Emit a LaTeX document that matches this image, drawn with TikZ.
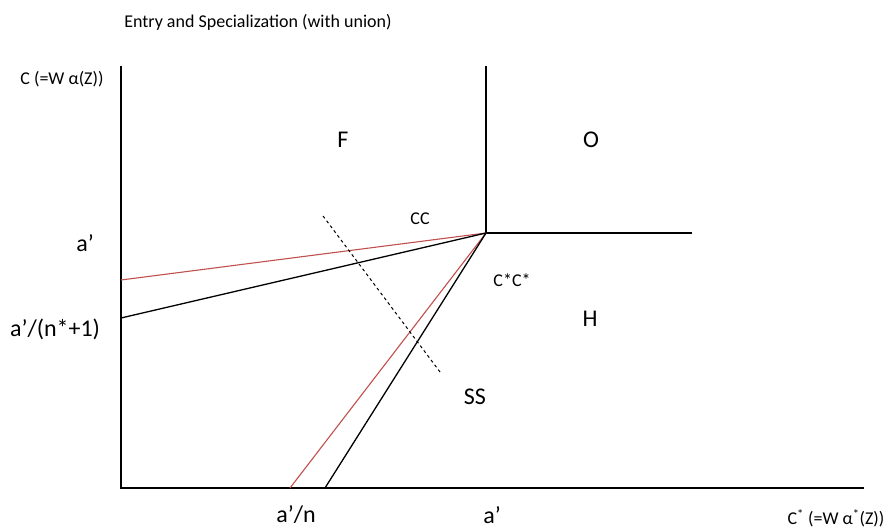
\documentclass[tikz,border=0pt]{standalone}
\usepackage{fontspec}
\setmainfont{Carlito}
\usetikzlibrary{positioning,calc}
\definecolor{offred}{RGB}{192,80,77}

\begin{document}
\begin{tikzpicture}[
    x=1pt, y=-1pt,
    axis/.style={draw=black, line width=1.3pt},
    blk/.style={draw=black, line width=1.3pt},
    red/.style={draw=offred, line width=1.1pt},
    lbl/.style={font=\fontsize{24}{26}\selectfont, inner sep=0pt},
    sml/.style={font=\fontsize{18}{20}\selectfont, inner sep=0pt}
]
    \useasboundingbox (0,0) rectangle (891,529);

    % axes
    \coordinate (o) at (121,488);
    \coordinate (ytop) at (121,66);
    \coordinate (xend) at (864,488);
    \coordinate (apex) at (486,233);
    \coordinate (vtop) at (486,66);
    \coordinate (hend) at (692,233);
    \coordinate (ry) at (121,280);
    \coordinate (by) at (121,318);
    \coordinate (rx) at (290,488);
    \coordinate (bx) at (325,488);
    \coordinate (d1) at (323,216);
    \coordinate (d2) at (440,372);

    \draw [axis] (ytop) -- (o) -- (xend);
    \draw [blk] (vtop) -- (apex) -- (hend);
    \draw [red] (ry) -- (apex) -- (rx);
    \draw [blk] (by) -- (apex) -- (bx);
    \draw [black, line width=1pt, dashed] (d1) -- (d2);

    % labels
    \node [sml] (title) at (258,22) {Entry and Specialization (with union)};
    \node [sml] (ylab) at (62,79) {C (=W α(Z))};
    \node [sml] (xlab) at (836,518) {C\textsuperscript{*} (=W α\textsuperscript{*}(Z))};
    \node [lbl] (ya) at (85,243) {a’};
    \node [lbl] (yan) at (55,329) {a’/(n*+1)};
    \node [lbl] (xan) at (296,515) {a’/n};
    \node [lbl] (xa) at (492,515) {a’};
    \node [lbl] (rf) at (343,140) {F};
    \node [lbl] (ro) at (591,140) {O};
    \node [lbl] (rh) at (590,319) {H};
    \node [lbl] (rss) at (475,397) {SS};
    \node [sml] (rcc) at (420,219) {CC};
    \node [sml] (rcs) at (512,280) {C*C*};
\end{tikzpicture}
\end{document}
